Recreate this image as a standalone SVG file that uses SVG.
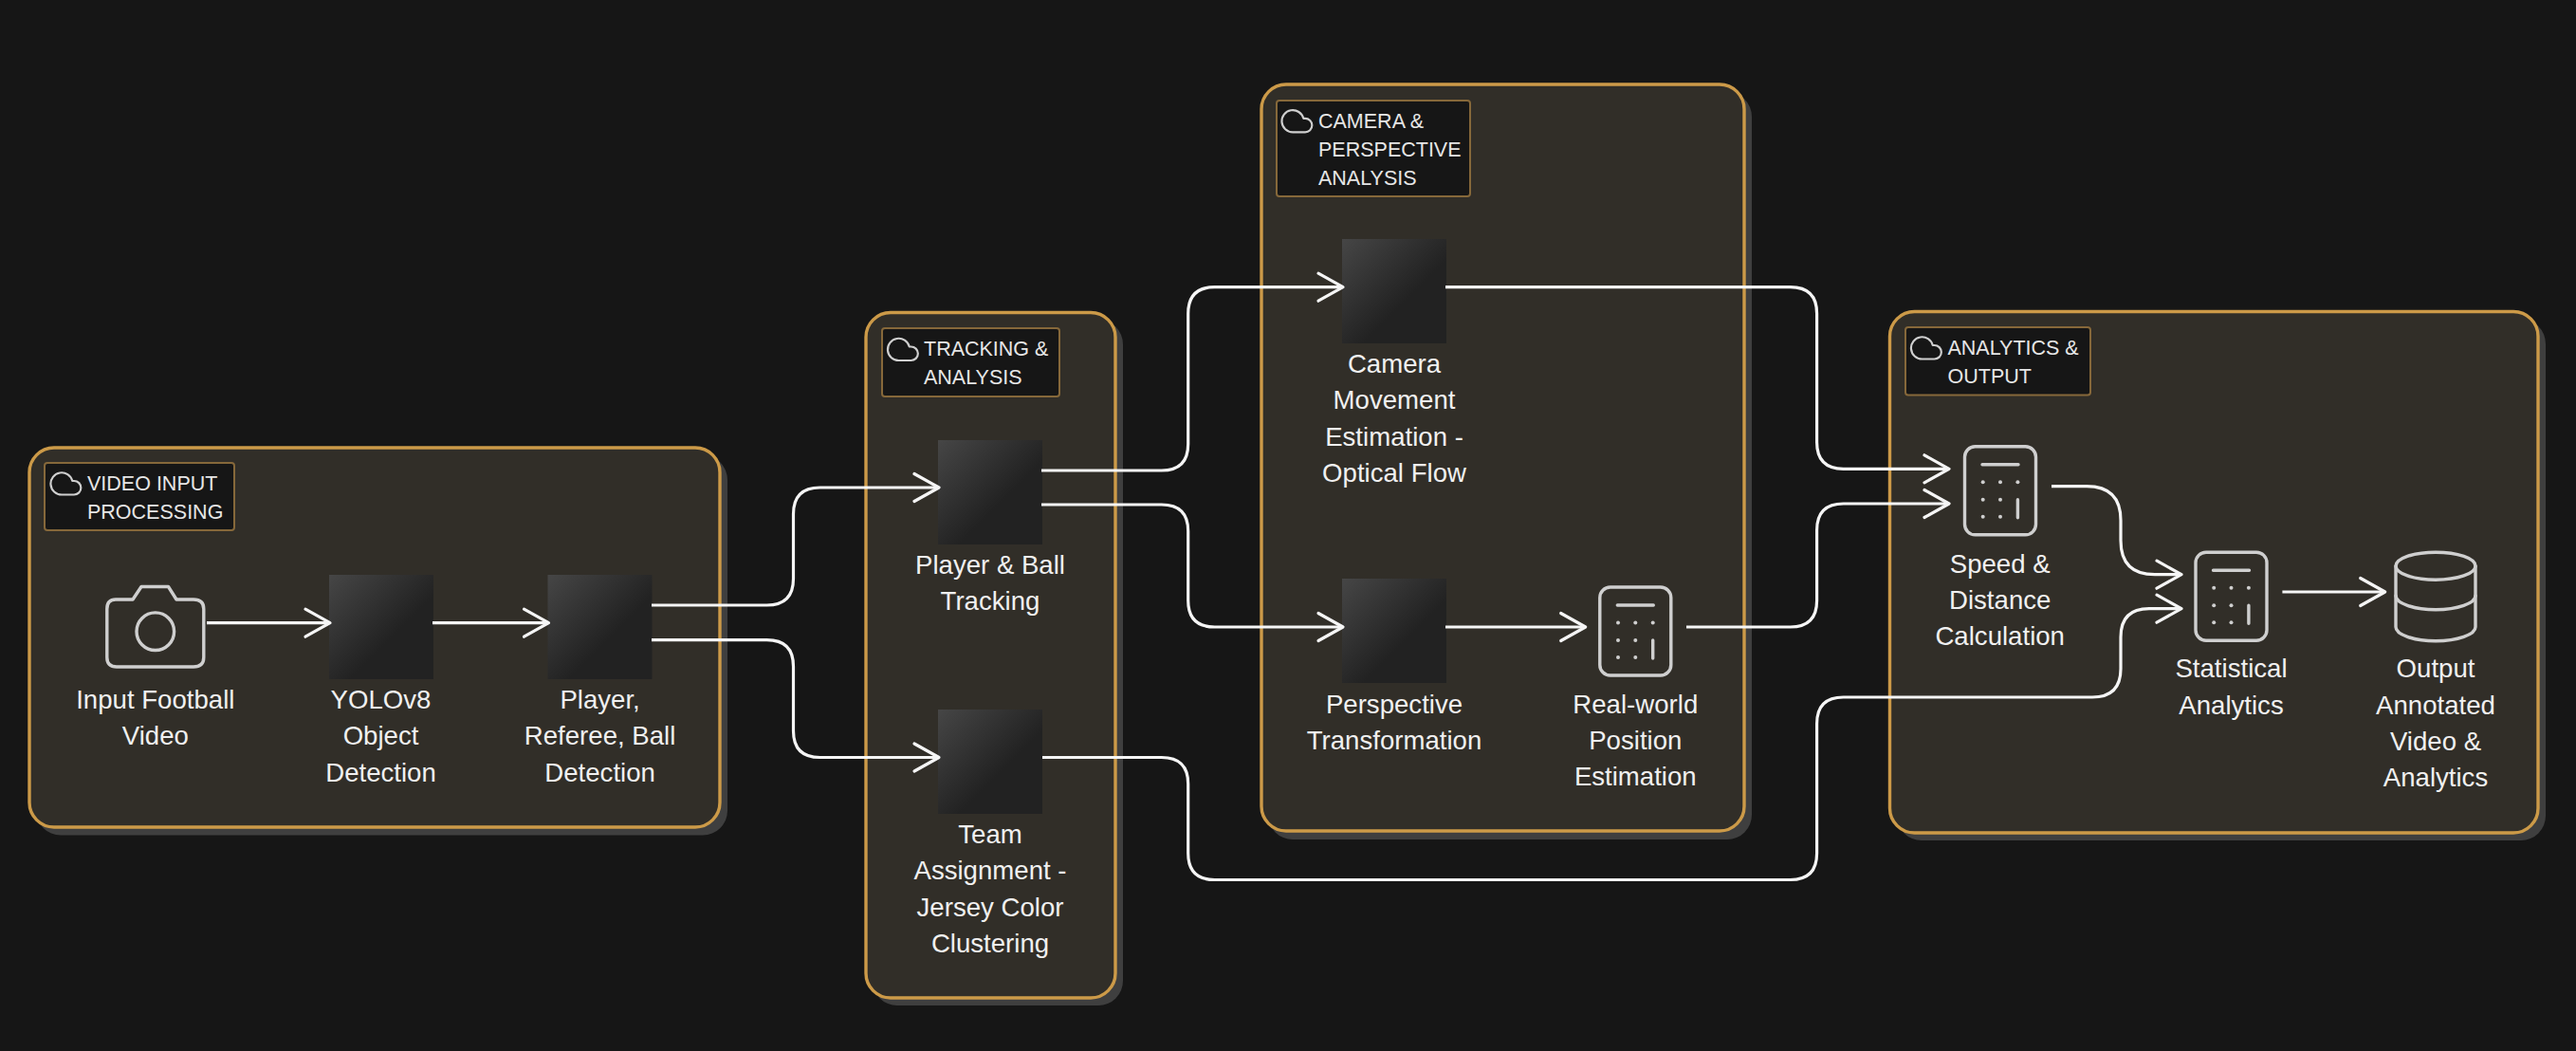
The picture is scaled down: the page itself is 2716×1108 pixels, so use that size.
<svg xmlns="http://www.w3.org/2000/svg" xmlns:xlink="http://www.w3.org/1999/xlink" width="2716" height="1108" viewBox="0 0 2716 1108">
<style>
.shadow{fill:#3f3f3f}
.group{fill:#312e28;stroke:#cc9a48;stroke-width:3.4}
.legend{fill:#161616;stroke:#86683a;stroke-width:2}
.legtext{font-family:"Liberation Sans",Arial,sans-serif;font-size:21.5px;fill:#e6e6e6}
.label{font-family:"Liberation Sans",Arial,sans-serif;font-size:27.6px;fill:#f0f0f0;text-anchor:middle}
.box{fill:url(#boxgrad)}
.icon{fill:none;stroke:#cfcfcf;stroke-width:3.4;stroke-linecap:round;stroke-linejoin:round}
.cloud{fill:none;stroke:#cfcfcf;stroke-width:1.5;stroke-linecap:round;stroke-linejoin:round}
.edge{fill:none;stroke:#f5f5f5;stroke-width:3.2;marker-end:url(#open)}
.dot{fill:#cfcfcf}
</style>
<defs>
<linearGradient id="boxgrad" x1="0" y1="0" x2="1" y2="1"><stop offset="0" stop-color="#464646"/><stop offset="0.6" stop-color="#222222"/><stop offset="1" stop-color="#222222"/></linearGradient>
<marker id="open" markerUnits="userSpaceOnUse" markerWidth="36" markerHeight="40" viewBox="0 0 36 40" refX="28" refY="20" orient="auto"><path d="M3 5.500 L29 20 L3 34.500" fill="none" stroke="#f5f5f5" stroke-width="3.200" stroke-linecap="round" stroke-linejoin="round"/></marker>
<path id="cloud" class="cloud" d="M18 10h-1.26A8 8 0 1 0 9 20h9a5 5 0 0 0 0-10z" transform="scale(1.45)"/>
<g id="calc">
<rect class="icon" x="-37.500" y="-46.500" width="75" height="93" rx="11"/>
<path class="icon" d="M-19 -27.500H19M18.400 9.500V28.500"/>
<circle class="dot" cx="-18.300" cy="-9" r="2"/><circle class="dot" cx="0" cy="-9" r="2"/><circle class="dot" cx="18.400" cy="-9" r="2"/>
<circle class="dot" cx="-18.300" cy="9.500" r="2"/><circle class="dot" cx="0" cy="9.500" r="2"/>
<circle class="dot" cx="-18.300" cy="27.500" r="2"/><circle class="dot" cx="0" cy="27.500" r="2"/>
</g>
</defs>
<rect width="2716" height="1108" fill="#161616"/>
<g id="group-video">
<rect class="shadow" x="38" y="480" width="729" height="400.500" rx="26"/>
<rect class="group" x="31" y="472" width="728" height="400" rx="26"/>
<rect class="legend" x="47" y="488" width="200" height="71" rx="3"/>
<use xlink:href="#cloud" href="#cloud" transform="translate(52 492.500)"/>
<text class="legtext" x="92" y="517.300">VIDEO INPUT</text>
<text class="legtext" x="92" y="547.300">PROCESSING</text>
</g>
<g id="group-tracking">
<rect class="shadow" x="920" y="337" width="264" height="723" rx="26"/>
<rect class="group" x="913" y="329.500" width="263" height="722.500" rx="26"/>
<rect class="legend" x="930" y="346" width="187" height="72" rx="3"/>
<use xlink:href="#cloud" href="#cloud" transform="translate(934.500 351)"/>
<text class="legtext" x="974" y="375">TRACKING &amp;</text>
<text class="legtext" x="974" y="405">ANALYSIS</text>
</g>
<g id="group-camera">
<rect class="shadow" x="1337" y="97" width="510" height="788" rx="26"/>
<rect class="group" x="1330" y="89" width="509" height="787" rx="26"/>
<rect class="legend" x="1346" y="106" width="204" height="101" rx="3"/>
<use xlink:href="#cloud" href="#cloud" transform="translate(1350 110.300)"/>
<text class="legtext" x="1390" y="135">CAMERA &amp;</text>
<text class="legtext" x="1390" y="165">PERSPECTIVE</text>
<text class="legtext" x="1390" y="195">ANALYSIS</text>
</g>
<g id="group-analytics">
<rect class="shadow" x="2000" y="336.500" width="684" height="549.500" rx="26"/>
<rect class="group" x="1992.500" y="328.500" width="683.500" height="549.500" rx="26"/>
<rect class="legend" x="2009" y="345" width="195" height="71.500" rx="3"/>
<use xlink:href="#cloud" href="#cloud" transform="translate(2013.500 349.500)"/>
<text class="legtext" x="2053.500" y="374">ANALYTICS &amp;</text>
<text class="legtext" x="2053.500" y="404">OUTPUT</text>
</g>
<g id="node-input">
<path class="icon" d="M122 632H140L149 618.500H177.500L186 632H204Q214.800 632 214.800 642V693Q214.800 703 204 703H123Q112.800 703 112.800 693V642Q112.800 632 122 632Z"/>
<circle class="icon" cx="163.800" cy="665.700" r="19.800"/>
<text class="label" x="163.800" y="747">Input Football</text>
<text class="label" x="163.800" y="785.400">Video</text>
</g>
<g id="node-yolo">
<rect class="box" x="347" y="606" width="110" height="110"/>
<text class="label" x="401.500" y="747">YOLOv8</text>
<text class="label" x="401.500" y="785.400">Object</text>
<text class="label" x="401.500" y="823.800">Detection</text>
</g>
<g id="node-detect">
<rect class="box" x="577.500" y="606" width="110" height="110"/>
<text class="label" x="632.600" y="747">Player,</text>
<text class="label" x="632.600" y="785.400">Referee, Ball</text>
<text class="label" x="632.600" y="823.800">Detection</text>
</g>
<g id="node-tracking">
<rect class="box" x="989" y="464" width="110" height="110"/>
<text class="label" x="1044" y="605">Player &amp; Ball</text>
<text class="label" x="1044" y="643.300">Tracking</text>
</g>
<g id="node-team">
<rect class="box" x="989" y="748" width="110" height="110"/>
<text class="label" x="1044" y="889">Team</text>
<text class="label" x="1044" y="927.300">Assignment -</text>
<text class="label" x="1044" y="965.600">Jersey Color</text>
<text class="label" x="1044" y="1004">Clustering</text>
</g>
<g id="node-camera">
<rect class="box" x="1415" y="252" width="110" height="110"/>
<text class="label" x="1470" y="393">Camera</text>
<text class="label" x="1470" y="431.400">Movement</text>
<text class="label" x="1470" y="469.800">Estimation -</text>
<text class="label" x="1470" y="508.200">Optical Flow</text>
</g>
<g id="node-perspective">
<rect class="box" x="1415" y="610" width="110" height="110"/>
<text class="label" x="1470" y="752">Perspective</text>
<text class="label" x="1470" y="790.400">Transformation</text>
</g>
<g id="node-realworld">
<use xlink:href="#calc" href="#calc" transform="translate(1724.300 665.500)"/>
<text class="label" x="1724.300" y="751.700">Real-world</text>
<text class="label" x="1724.300" y="790">Position</text>
<text class="label" x="1724.300" y="828.300">Estimation</text>
</g>
<g id="node-speed">
<use xlink:href="#calc" href="#calc" transform="translate(2109 517.300)"/>
<text class="label" x="2108.700" y="603.700">Speed &amp;</text>
<text class="label" x="2108.700" y="642">Distance</text>
<text class="label" x="2108.700" y="680.400">Calculation</text>
</g>
<g id="node-stats">
<use xlink:href="#calc" href="#calc" transform="translate(2352.500 628.700)"/>
<text class="label" x="2352.500" y="714.400">Statistical</text>
<text class="label" x="2352.500" y="752.700">Analytics</text>
</g>
<g id="node-output">
<path class="icon" d="M2526 596.700V661C2526 669 2545 675.700 2568 675.700S2610 669 2610 661V596.700"/>
<ellipse class="icon" cx="2568" cy="596.700" rx="42" ry="14.500"/>
<path class="icon" d="M2526 628C2526 636 2545 642.700 2568 642.700S2610 636 2610 628"/>
<text class="label" x="2568" y="714.400">Output</text>
<text class="label" x="2568" y="752.700">Annotated</text>
<text class="label" x="2568" y="791">Video &amp;</text>
<text class="label" x="2568" y="829.400">Analytics</text>
</g>
<g id="connectors">
<path class="edge" d="M218 656.700H347"/>
<path class="edge" d="M456 656.700H577.500"/>
<path class="edge" d="M687 638H808.500Q836.500 638 836.500 610V542Q836.500 514 864.500 514H989"/>
<path class="edge" d="M687 674.700H808.500Q836.500 674.700 836.500 702.700V770.500Q836.500 798.500 864.500 798.500H989"/>
<path class="edge" d="M1098 496H1224.700Q1252.700 496 1252.700 468V330.700Q1252.700 302.700 1280.700 302.700H1415"/>
<path class="edge" d="M1098 532H1224.700Q1252.700 532 1252.700 560V633Q1252.700 661 1280.700 661H1415"/>
<path class="edge" d="M1524 302.700H1887.600Q1915.600 302.700 1915.600 330.700V466.300Q1915.600 494.300 1943.600 494.300H2054"/>
<path class="edge" d="M1524 661H1670.700"/>
<path class="edge" d="M1778 661H1887.600Q1915.600 661 1915.600 633V559Q1915.600 531 1943.600 531H2054"/>
<path class="edge" d="M1099 798.500H1224.700Q1252.700 798.500 1252.700 826.500V899.500Q1252.700 927.500 1280.700 927.500H1887.600Q1915.600 927.500 1915.600 899.500V763Q1915.600 735 1943.600 735H2206Q2236 735 2236 705V671.700Q2236 641.700 2266 641.700H2299"/>
<path class="edge" d="M2163 512.700H2200Q2236 512.700 2236 548.700V569.700Q2236 605.700 2272 605.700H2299"/>
<path class="edge" d="M2406.400 624H2513.700"/>
</g>
</svg>
